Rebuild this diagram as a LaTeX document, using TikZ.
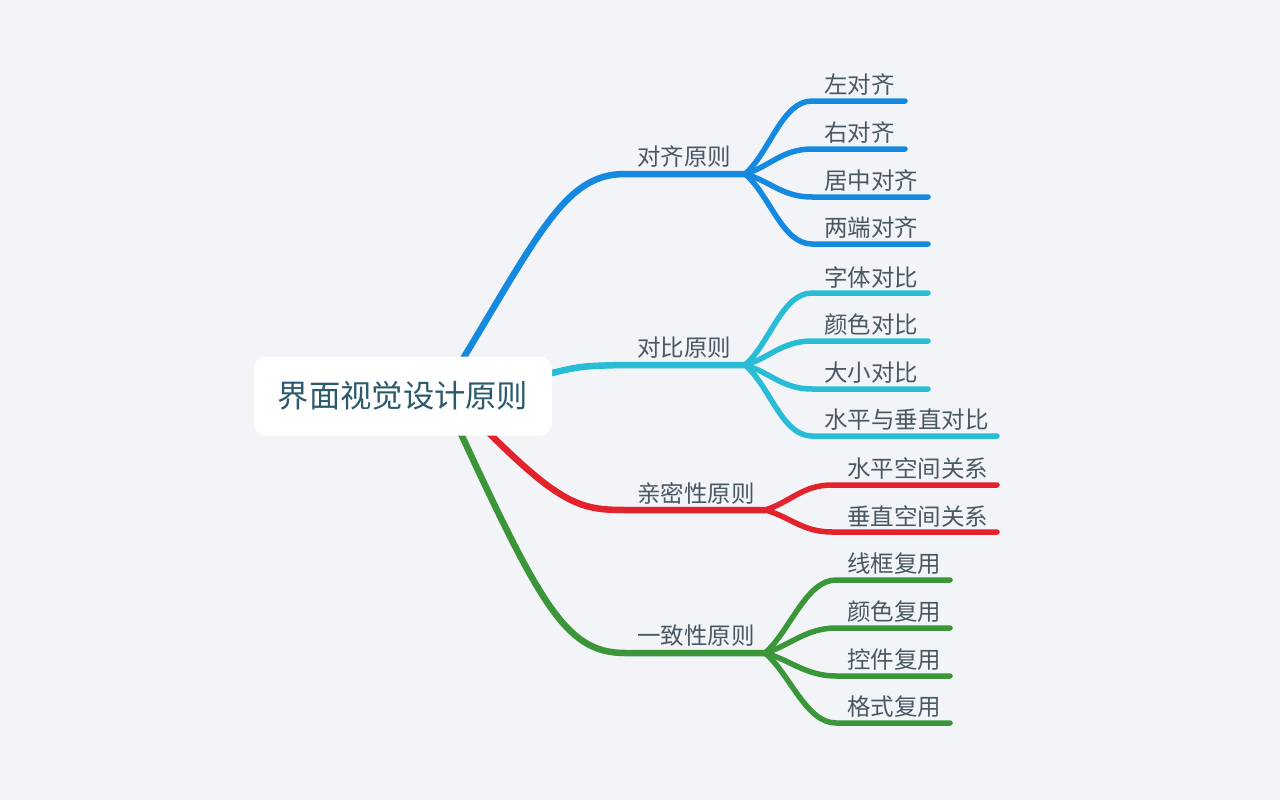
\documentclass[tikz,border=0pt]{standalone}
\usepackage{fontspec}
\newfontfamily\cjk{Noto Sans CJK SC}
\definecolor{bg}{RGB}{242,244,248}
\definecolor{cblue}{RGB}{21,137,224}
\definecolor{ccyan}{RGB}{41,188,214}
\definecolor{cred}{RGB}{226,35,43}
\definecolor{cgreen}{RGB}{58,150,56}
\definecolor{ctext}{RGB}{74,88,100}
\definecolor{ctitle}{RGB}{42,90,108}
\tikzset{
  mainline/.style={line width=6.5pt, line cap=round},
  subline/.style={line width=5.5pt, line cap=round},
  mainlabel/.style={font=\cjk\fontsize{23.5}{27}\selectfont, text=ctext, inner sep=0pt},
  sublabel/.style={font=\cjk\fontsize{23.5}{27}\selectfont, text=ctext, inner sep=0pt, anchor=west},
  rootbox/.style={fill=white, rounded corners=12pt, minimum width=298pt, minimum height=79pt, inner sep=0pt,
    font=\cjk\fontsize{31.3}{35}\selectfont, text=ctitle}
}
\begin{document}
\begin{tikzpicture}[x=1pt,y=-1pt]
\fill[bg] (0,0) rectangle (1280,800);
\useasboundingbox (0,0) rectangle (1280,800);

% root anchor points (hidden under root box)
\coordinate (rb) at (455,372);
\coordinate (rc) at (540,376);
\coordinate (rr) at (478,422);
\coordinate (rg) at (450,410);

% main branch coordinates
\coordinate (bs) at (625,174); \coordinate (bj) at (745,174);
\coordinate (cs) at (625,365); \coordinate (cj) at (745,365);
\coordinate (ks) at (625,510); \coordinate (kj) at (765,510);
\coordinate (gs) at (625,653); \coordinate (gj) at (765,653);

% main branches
\draw[mainline, cblue] (rb) .. controls (540,232) and (565,174) .. (bs) -- (bj);
\draw[mainline, ccyan] (rc) .. controls (580,366) .. (cs) -- (cj);
\draw[mainline, cred] (rr) .. controls (560,505) and (580,510) .. (ks) -- (kj);
\draw[mainline, cgreen] (rg) .. controls (540,605) and (565,653) .. (gs) -- (gj);

\node[mainlabel] (lb) at (684,157) {对齐原则};
\node[mainlabel] (lc) at (684,348) {对比原则};
\node[mainlabel] (lk) at (696,493) {亲密性原则};
\node[mainlabel] (lg) at (696,636) {一致性原则};

% sub branches: blue
\foreach \i/\y/\e/\t in {1/101/905/左对齐, 2/149/905/右对齐, 3/197/928/居中对齐, 4/244/928/两端对齐}{
  \coordinate (b\i s) at (812,\y); \coordinate (b\i e) at (\e,\y);
  \draw[subline, cblue] (bj) .. controls (770,{174+(\y-174)*0.3}) and (782,\y) .. (b\i s) -- (b\i e);
  \node[sublabel] (b\i) at (824,{\y-16}) {\t};
}
% cyan
\foreach \i/\y/\e/\t in {1/293/928/字体对比, 2/341/928/颜色对比, 3/389/928/大小对比, 4/436/997/水平与垂直对比}{
  \coordinate (c\i s) at (812,\y); \coordinate (c\i e) at (\e,\y);
  \draw[subline, ccyan] (cj) .. controls (770,{365+(\y-365)*0.3}) and (782,\y) .. (c\i s) -- (c\i e);
  \node[sublabel] (c\i) at (824,{\y-16}) {\t};
}
% red
\foreach \i/\y/\e/\t in {1/485/997/水平空间关系, 2/532/997/垂直空间关系}{
  \coordinate (k\i s) at (832,\y); \coordinate (k\i e) at (\e,\y);
  \draw[subline, cred] (kj) .. controls (790,{510+(\y-510)*0.3}) and (802,\y) .. (k\i s) -- (k\i e);
  \node[sublabel] (k\i) at (847,{\y-16}) {\t};
}
% green
\foreach \i/\y/\e/\t in {1/580/950/线框复用, 2/628/950/颜色复用, 3/676/950/控件复用, 4/723/950/格式复用}{
  \coordinate (g\i s) at (836,\y); \coordinate (g\i e) at (\e,\y);
  \draw[subline, cgreen] (gj) .. controls (790,{653+(\y-653)*0.3}) and (806,\y) .. (g\i s) -- (g\i e);
  \node[sublabel] (g\i) at (847,{\y-16}) {\t};
}

\node[rootbox] (root) at (403,396) {界面视觉设计原则};
\end{tikzpicture}
\end{document}
